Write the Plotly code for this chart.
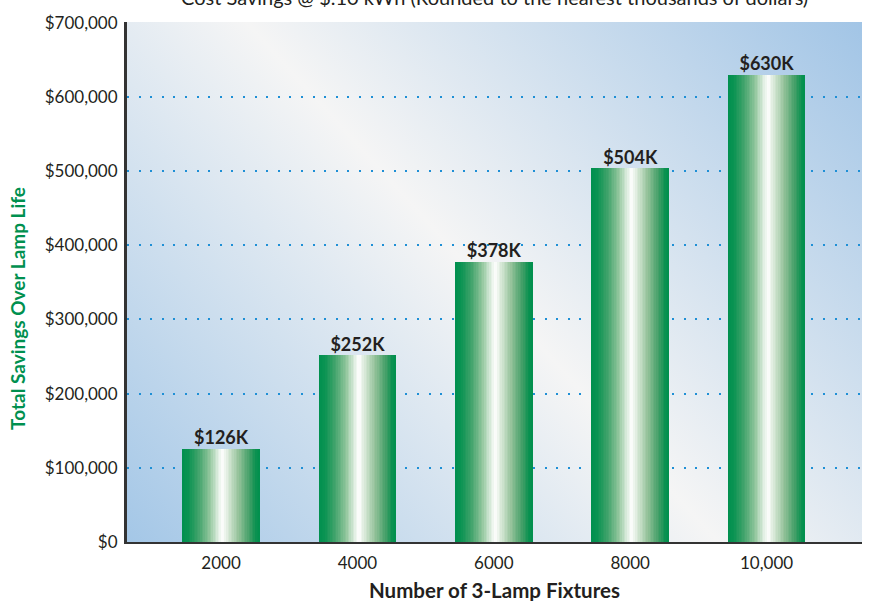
import base64
import plotly.graph_objects as go

# ---- data ----
fixtures = ["2000", "4000", "6000", "8000", "10,000"]
savings = [126000, 252000, 378000, 504000, 630000]
bar_labels = ["$126K", "$252K", "$378K", "$504K", "$630K"]
y_tickvals = [0, 100000, 200000, 300000, 400000, 500000, 600000, 700000]
y_ticktext = ["$0", "$100,000", "$200,000", "$300,000", "$400,000", "$500,000", "$600,000", "$700,000"]
title_text = "Cost Savings @ $.10 kWh (Rounded to the nearest thousands of dollars)"
x_title = "Number of 3-Lamp Fixtures"
y_title = "Total Savings Over Lamp Life"

# ---- style ----
FONT = "Lato"
TXT = "#231f20"
GREEN = "#00904f"
W, H = 885, 601
ML, MR, MT, MB = 127, 23, 20, 59
PW, PH = W - ML - MR, H - MT - MB
BAR_W = 0.57
N_SLICES = 48
bar_stops = [
    (0.00, (0, 144, 78)), (0.08, (10, 147, 82)), (0.22, (70, 165, 110)),
    (0.36, (150, 200, 160)), (0.46, (222, 238, 224)), (0.52, (255, 255, 255)),
    (0.58, (222, 236, 222)), (0.72, (150, 195, 155)), (0.86, (70, 160, 105)),
    (0.95, (10, 145, 80)), (1.00, (0, 144, 78)),
]


def grad_color(t):
    for (t0, c0), (t1, c1) in zip(bar_stops[:-1], bar_stops[1:]):
        if t0 <= t <= t1:
            f = (t - t0) / (t1 - t0) if t1 > t0 else 0
            c = [round(a + (b - a) * f) for a, b in zip(c0, c1)]
            return "rgb(%d,%d,%d)" % tuple(c)
    return "rgb(0,144,78)"


# background gradient (diagonal, blue - white - blue)
svg = (
    "<svg xmlns='http://www.w3.org/2000/svg' width='%d' height='%d' viewBox='0 0 %d %d' preserveAspectRatio='none'>"
    "<defs><linearGradient id='g' gradientUnits='userSpaceOnUse' x1='0' y1='%d' x2='664' y2='-78'>"
    "<stop offset='0' stop-color='#a4c7e7'/>"
    "<stop offset='0.49' stop-color='#f5f5f5'/>"
    "<stop offset='1' stop-color='#a2c5e6'/>"
    "</linearGradient></defs><rect width='%d' height='%d' fill='url(#g)'/></svg>"
) % (PW, PH, PW, PH, PH, PW, PH)
bg_src = "data:image/svg+xml;base64," + base64.b64encode(svg.encode()).decode()

fig = go.Figure()

sw = BAR_W / N_SLICES
for i in range(N_SLICES):
    t = (i + 0.5) / N_SLICES
    fig.add_trace(go.Bar(
        x=fixtures, y=savings,
        width=sw * 1.6 if i < N_SLICES - 1 else sw,
        offset=-BAR_W / 2 + i * sw,
        marker=dict(color=grad_color(t), line=dict(width=0)),
        hoverinfo="skip", showlegend=False,
    ))

fig.add_trace(go.Scatter(
    x=fixtures, y=savings, mode="text", text=bar_labels,
    textposition="top center",
    textfont=dict(family=FONT, size=18, color=TXT, weight="bold"),
    hoverinfo="skip", showlegend=False, cliponaxis=False,
))

fig.update_layout(
    width=W, height=H,
    margin=dict(l=ML, r=MR, t=MT, b=MB),
    paper_bgcolor="white", plot_bgcolor="rgba(0,0,0,0)",
    barmode="overlay", bargap=0,
    font=dict(family=FONT, size=17, color=TXT),
    images=[dict(source=bg_src, xref="paper", yref="paper", x=0, y=1,
                 sizex=1, sizey=1, sizing="stretch", layer="below")],
    xaxis=dict(
        type="category", range=[-0.69, 4.70],
        showline=True, linecolor="#333333", linewidth=2,
        showgrid=False, ticks="", tickfont=dict(size=17, color=TXT),
        ticklabelstandoff=5,
    ),
    yaxis=dict(
        range=[0, 701000], tickvals=y_tickvals, ticktext=y_ticktext,
        showline=True, linecolor="#333333", linewidth=3,
        showgrid=True, gridcolor="#1e8fd5", gridwidth=2, griddash="2px,9.6px",
        zeroline=False, ticks="", tickfont=dict(size=17, color=TXT),
        ticklabelstandoff=3,
    ),
    annotations=[
        dict(text=title_text, xref="paper", yref="paper", x=0.5, y=1 + 25 / PH,
             yanchor="middle", showarrow=False,
             font=dict(family=FONT, size=20, color=TXT)),
        dict(text="<b>%s</b>" % x_title, xref="paper", yref="paper", x=0.5,
             y=-(590 - 542) / PH, yanchor="middle", showarrow=False,
             font=dict(family=FONT, size=20.5, color=TXT)),
        dict(text="<b>%s</b>" % y_title, xref="paper", yref="paper",
             x=-(ML - 18) / PW, y=(542 - 308) / PH, xanchor="center", yanchor="middle",
             textangle=-90, showarrow=False,
             font=dict(family=FONT, size=19, color=GREEN)),
    ],
)

fig.write_html("out.html", config={"displayModeBar": False},
               post_script="document.body.style.margin='0';document.body.style.overflow='hidden';")
